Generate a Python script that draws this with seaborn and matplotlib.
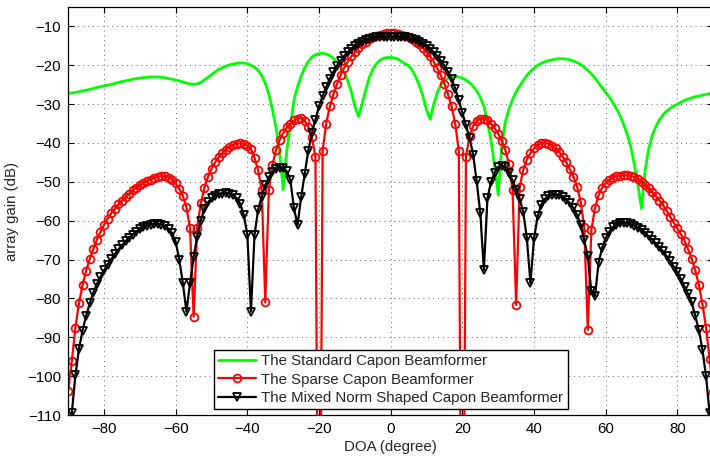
import matplotlib
matplotlib.use("Agg")
import matplotlib.pyplot as plt
import seaborn as sns

# DOA grid (degrees)
doa = list(range(-90, 91))

# The Standard Capon Beamformer (dB)
standard = [
    -27.2, -27.1, -27.0, -26.8, -26.6, -26.4, -26.2, -26.0, -25.7, -25.5,
    -25.3, -25.1, -24.9, -24.7, -24.4, -24.2, -24.0, -23.8, -23.6, -23.4,
    -23.3, -23.2, -23.1, -23.0, -23.0, -23.0, -23.1, -23.2, -23.4, -23.6,
    -23.8, -24.0, -24.3, -24.6, -24.8, -24.9, -24.8, -24.4, -23.8, -23.1,
    -22.4, -21.7, -21.1, -20.6, -20.2, -19.9, -19.7, -19.5, -19.4, -19.4,
    -19.6, -20.0, -20.5, -21.3, -22.6, -24.6, -27.5, -31.5, -36.0, -42.5,
    -52.0, -42.0, -35.5, -29.0, -25.5, -22.8, -20.6, -19.0, -17.9, -17.3,
    -17.0, -16.9, -17.1, -17.5, -18.2, -19.1, -20.3, -21.9, -24.0, -26.8,
    -30.5, -33.2, -30.0, -26.5, -23.2, -21.0, -19.6, -18.7, -18.2, -18.0,
    -18.0, -18.1, -18.4, -19.0, -19.6, -20.1, -21.3, -23.0, -25.2, -28.0,
    -31.5, -33.9, -30.0, -27.0, -25.0, -23.9, -23.3, -23.0, -22.9, -23.0,
    -23.3, -23.8, -24.5, -25.4, -26.6, -28.2, -30.5, -34.5, -39.5, -46.0,
    -53.4, -40.5, -34.5, -31.3, -28.8, -26.8, -25.3, -23.9, -22.6, -21.6,
    -20.7, -20.0, -19.5, -19.1, -18.8, -18.6, -18.4, -18.3, -18.3, -18.4,
    -18.6, -18.9, -19.3, -19.8, -20.5, -21.3, -22.2, -23.3, -24.5, -25.8,
    -27.0, -28.2, -29.6, -31.2, -33.0, -35.2, -37.8, -41.0, -45.5, -51.0,
    -56.8, -47.0, -41.5, -38.0, -35.8, -34.0, -32.7, -31.8, -31.1, -30.5,
    -30.0, -29.5, -29.0, -28.7, -28.4, -28.1, -27.9, -27.7, -27.5, -27.3,
    -27.2,
]

# The Sparse Capon Beamformer (dB)
sparse = [
    -103.7, -96.2, -87.6, -81.3, -76.6, -72.9, -69.9, -67.3, -64.9, -62.9,
    -61.1, -59.5, -58.1, -56.9, -55.8, -54.8, -53.9, -53.0, -52.2, -51.5,
    -50.9, -50.3, -49.8, -49.4, -49.0, -48.7, -48.6, -48.6, -48.9, -49.4,
    -50.4, -51.8, -53.6, -56.5, -62.0, -84.7, -61.8, -55.5, -51.6, -48.7,
    -46.6, -45.0, -43.7, -42.6, -41.7, -41.0, -40.5, -40.2, -40.1, -40.3,
    -40.7, -41.6, -43.8, -47.0, -52.0, -81.0, -52.0, -45.6, -41.8, -39.2,
    -37.5, -36.0, -35.0, -34.2, -33.8, -33.6, -34.3, -35.8, -38.5, -43.5,
    -200.0, -42.0, -35.0, -30.6, -27.5, -24.8, -22.6, -20.7, -19.1, -17.7,
    -16.5, -15.5, -14.6, -13.9, -13.3, -12.8, -12.4, -12.1, -11.9, -11.8,
    -11.8, -11.8, -11.9, -12.1, -12.4, -12.8, -13.3, -13.9, -14.6, -15.5,
    -16.5, -17.7, -19.1, -20.7, -22.6, -24.8, -27.5, -30.6, -35.0, -42.0,
    -200.0, -43.5, -38.3, -35.6, -34.3, -33.8, -33.7, -34.1, -35.0, -36.2,
    -37.6, -39.4, -41.8, -45.4, -52.0, -81.7, -51.2, -46.9, -44.3, -42.6,
    -41.4, -40.6, -40.1, -40.0, -40.2, -40.7, -41.4, -42.3, -43.5, -45.0,
    -46.8, -48.7, -51.2, -55.1, -61.5, -88.1, -62.4, -56.8, -53.5, -51.5,
    -50.3, -49.5, -49.0, -48.6, -48.4, -48.3, -48.3, -48.5, -48.8, -49.3,
    -50.0, -50.8, -51.7, -52.6, -53.7, -54.8, -56.0, -57.4, -59.0, -60.5,
    -62.0, -63.5, -65.2, -67.3, -69.8, -72.8, -76.5, -81.5, -87.5, -95.5,
    -104.0,
]

# The Mixed Norm Shaped Capon Beamformer (dB)
mixed = [
    -130.0, -109.6, -99.8, -93.0, -88.3, -84.5, -81.3, -78.5, -76.3, -74.5,
    -72.8, -71.3, -69.9, -68.6, -67.4, -66.3, -65.3, -64.4, -63.6, -62.9,
    -62.2, -61.7, -61.3, -61.0, -60.8, -60.8, -61.0, -61.4, -62.1, -63.2,
    -65.5, -70.0, -76.1, -83.4, -76.1, -69.3, -64.1, -60.0, -57.0, -55.3,
    -54.2, -53.6, -53.2, -53.0, -52.9, -53.0, -53.4, -54.2, -55.6, -58.5,
    -63.6, -83.4, -63.6, -57.2, -53.8, -50.8, -48.8, -47.5, -46.7, -46.4,
    -46.5, -47.3, -49.5, -56.8, -61.1, -54.0, -48.0, -42.0, -37.5, -34.0,
    -30.5, -28.0, -25.6, -23.5, -21.7, -20.1, -18.8, -17.6, -16.6, -15.8,
    -15.0, -14.4, -13.9, -13.5, -13.2, -13.0, -12.8, -12.7, -12.6, -12.6,
    -12.6, -12.6, -12.6, -12.7, -12.8, -13.0, -13.2, -13.5, -13.9, -14.4,
    -15.0, -15.8, -16.6, -17.6, -18.8, -20.1, -21.7, -23.5, -26.0, -29.0,
    -32.2, -35.3, -38.7, -43.0, -49.9, -58.0, -72.7, -54.2, -50.0, -47.6,
    -46.2, -45.8, -46.3, -47.6, -49.6, -52.0, -54.5, -57.8, -64.5, -76.1,
    -64.5, -58.9, -55.9, -54.4, -53.7, -53.3, -53.3, -53.5, -54.0, -54.6,
    -55.5, -56.7, -58.5, -61.0, -65.0, -69.2, -78.2, -79.5, -70.9, -67.0,
    -64.5, -62.8, -61.7, -61.0, -60.7, -60.6, -60.6, -60.9, -61.3, -61.9,
    -62.5, -63.2, -64.0, -64.9, -65.8, -66.8, -67.9, -69.1, -70.4, -71.8,
    -73.3, -75.0, -77.0, -78.8, -81.0, -84.5, -88.2, -93.2, -100.0, -109.6,
    -130.0,
]

series_labels = [
    "The Standard Capon Beamformer",
    "The Sparse Capon Beamformer",
    "The Mixed Norm Shaped Capon Beamformer",
]
xticks = [-80, -60, -40, -20, 0, 20, 40, 60, 80]
yticks = [-110, -100, -90, -80, -70, -60, -50, -40, -30, -20, -10]

sns.set_style("ticks")
plt.rcParams["font.family"] = ["Liberation Sans", "DejaVu Sans"]
plt.rcParams["axes.unicode_minus"] = True

FS = 10.8
fig = plt.figure(figsize=(7.1, 4.58), dpi=100)
ax = fig.add_axes([68.2 / 710, 43 / 458, 645 / 710, 408 / 458])

sns.lineplot(x=doa, y=standard, ax=ax, color=(0, 1, 0), linewidth=2.0,
             errorbar=None, label=series_labels[0])
sns.lineplot(x=doa, y=sparse, ax=ax, color=(1, 0, 0), linewidth=1.6,
             marker="o", markersize=5.6, markerfacecolor="none",
             markeredgecolor=(1, 0, 0), markeredgewidth=1.3,
             errorbar=None, label=series_labels[1])
sns.lineplot(x=doa, y=mixed, ax=ax, color="black", linewidth=1.6,
             marker="v", markersize=6.0, markerfacecolor="none",
             markeredgecolor="black", markeredgewidth=1.3,
             errorbar=None, label=series_labels[2])

ax.set_xlim(-90, 90)
ax.set_ylim(-110, -5)
ax.set_xticks(xticks)
ax.set_yticks(yticks)
ax.set_xlabel("DOA (degree)", fontsize=FS, labelpad=3)
ax.set_ylabel("array gain (dB)", fontsize=FS, labelpad=6)
ax.tick_params(direction="in", top=True, right=True, length=4, width=0.8,
               labelsize=FS, pad=5, colors="black")
ax.grid(True, linestyle=(0, (1, 4)), color="0.4", linewidth=0.7)
for s in ax.spines.values():
    s.set_visible(True)
    s.set_color("black")
    s.set_linewidth(0.9)

leg = ax.legend(loc="lower center", bbox_to_anchor=(0.5, 0.014),
                borderaxespad=0, fontsize=FS, frameon=True, fancybox=False,
                framealpha=1, edgecolor="black", borderpad=0.3,
                labelspacing=0.28, handlelength=2.5, handletextpad=0.35,
                numpoints=1)
leg.get_frame().set_linewidth(1.0)

fig.savefig("out.png", dpi=100)
